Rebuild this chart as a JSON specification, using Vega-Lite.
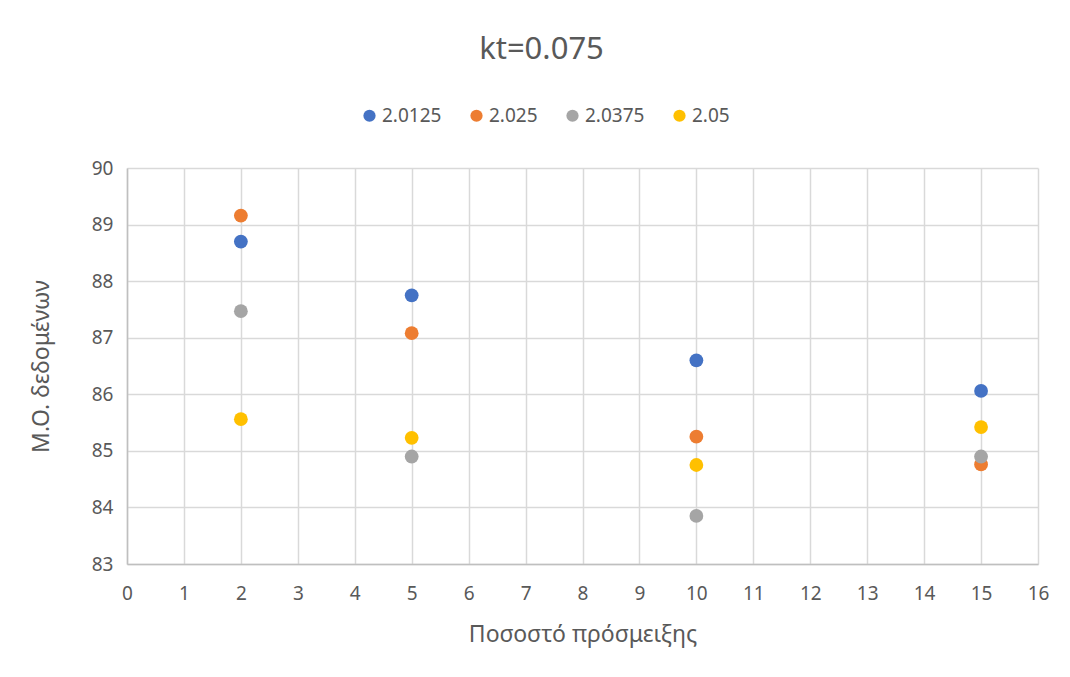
{
  "$schema": "https://vega.github.io/schema/vega-lite/v6.json",
  "width": 911,
  "height": 396,
  "autosize": "none",
  "padding": {"left": 127, "top": 168, "right": 32, "bottom": 113},
  "background": "white",
  "title": {
    "text": "kt=0.075",
    "fontSize": 31,
    "font": "Liberation Sans Narrow, Noto Sans",
    "fontWeight": "normal",
    "color": "#595959",
    "anchor": "middle",
    "dx": -41,
    "offset": 40
  },
  "data": {
    "values": [
      {"x": 2, "y": 88.70, "series": "2.0125"},
      {"x": 5, "y": 87.75, "series": "2.0125"},
      {"x": 10, "y": 86.60, "series": "2.0125"},
      {"x": 15, "y": 86.06, "series": "2.0125"},
      {"x": 2, "y": 89.16, "series": "2.025"},
      {"x": 5, "y": 87.08, "series": "2.025"},
      {"x": 10, "y": 85.25, "series": "2.025"},
      {"x": 15, "y": 84.76, "series": "2.025"},
      {"x": 2, "y": 87.47, "series": "2.0375"},
      {"x": 5, "y": 84.90, "series": "2.0375"},
      {"x": 10, "y": 83.85, "series": "2.0375"},
      {"x": 15, "y": 84.90, "series": "2.0375"},
      {"x": 2, "y": 85.56, "series": "2.05"},
      {"x": 5, "y": 85.23, "series": "2.05"},
      {"x": 10, "y": 84.75, "series": "2.05"},
      {"x": 15, "y": 85.42, "series": "2.05"}
    ]
  },
  "mark": {"type": "point", "filled": true, "opacity": 1, "size": 190, "shape": "circle"},
  "encoding": {
    "x": {
      "field": "x",
      "type": "quantitative",
      "scale": {"domain": [0, 16], "nice": false, "zero": false},
      "axis": {
        "title": "Ποσοστό πρόσμειξης",
        "values": [0, 1, 2, 3, 4, 5, 6, 7, 8, 9, 10, 11, 12, 13, 14, 15, 16],
        "labelFlush": false,
        "labelPadding": 20,
        "titlePadding": 20
      }
    },
    "y": {
      "field": "y",
      "type": "quantitative",
      "scale": {"domain": [83, 90], "nice": false, "zero": false},
      "axis": {
        "title": "Μ.Ο. δεδομένων",
        "values": [83, 84, 85, 86, 87, 88, 89, 90],
        "labelFlush": false,
        "labelPadding": 14,
        "titlePadding": 38
      }
    },
    "color": {
      "field": "series",
      "type": "nominal",
      "sort": ["2.0125", "2.025", "2.0375", "2.05"],
      "scale": {
        "domain": ["2.0125", "2.025", "2.0375", "2.05"],
        "range": ["#4472C4", "#ED7D31", "#A5A5A5", "#FFC000"]
      },
      "legend": {
        "title": null,
        "orient": "none",
        "direction": "horizontal",
        "legendX": 233,
        "legendY": -62,
        "symbolType": "circle",
        "symbolSize": 150,
        "symbolOpacity": 1,
        "labelFontSize": 19,
        "labelFont": "Liberation Sans Narrow, Noto Sans",
        "labelColor": "#595959",
        "labelOffset": 3,
        "columnPadding": 25
      }
    }
  },
  "config": {
    "view": {"stroke": null},
    "axis": {
      "grid": true,
      "gridColor": "#d9d9d9",
      "gridWidth": 1.5,
      "domainColor": "#bfbfbf",
      "domainWidth": 1.5,
      "ticks": false,
      "labelFont": "Liberation Sans Narrow, Noto Sans",
      "labelFontSize": 19,
      "labelColor": "#595959",
      "titleFont": "Liberation Sans Narrow, Noto Sans",
      "titleFontSize": 23,
      "titleFontWeight": "normal",
      "titleColor": "#595959"
    }
  }
}
